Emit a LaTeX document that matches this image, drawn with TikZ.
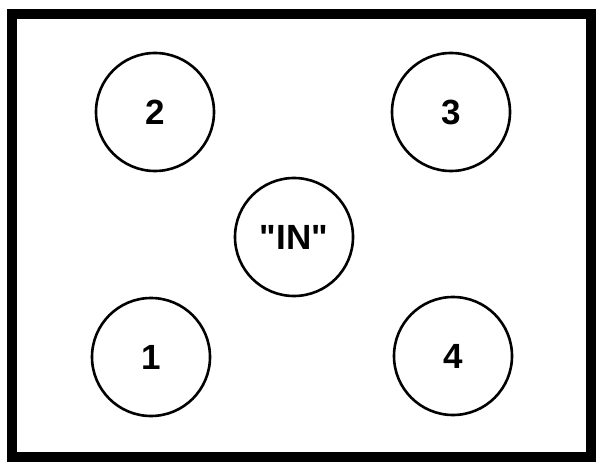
\documentclass[tikz,border=0pt]{standalone}
\usepackage{fontspec}
\newfontfamily\padfont{Liberation Sans}
\usepackage{tikz}

\begin{document}
\begin{tikzpicture}[x=1pt,y=-1pt,
    pad/.style={draw,circle,line width=2.6pt,minimum size=118pt,inner sep=0pt,
        font=\padfont\fontsize{35}{35}\selectfont\bfseries}]
\useasboundingbox (0,0) rectangle (596,462);
\draw[line width=10pt] (12,14) rectangle (591,457);
    \node[pad] (two) at (155,112) {2};
    \node[pad] (three) at (451,112) {3};
    \node[pad] (in) at (294,237) {"IN"};
    \node[pad] (one) at (151,357) {1};
    \node[pad] (four) at (453,356) {4};
\end{tikzpicture}
\end{document}
